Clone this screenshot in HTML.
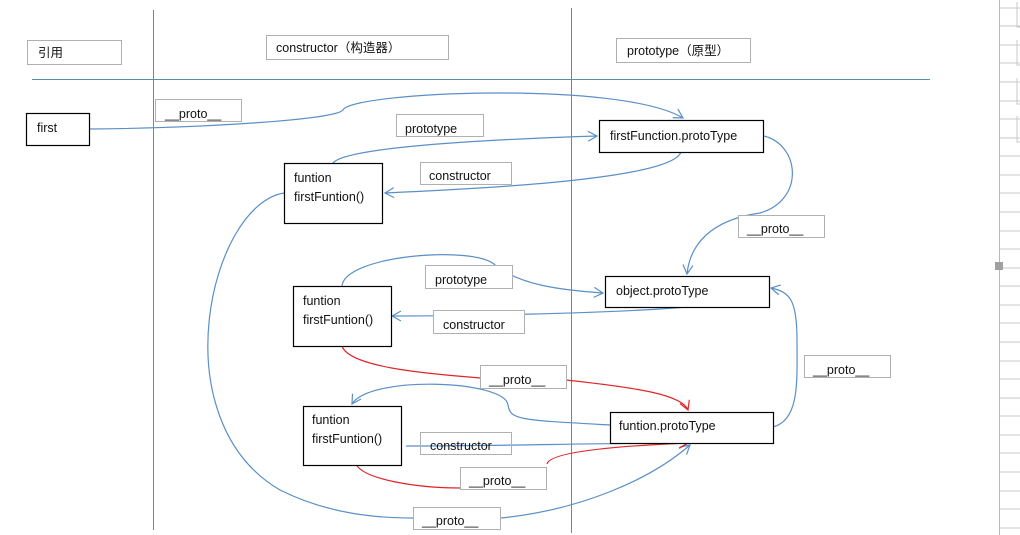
<!DOCTYPE html>
<html><head><meta charset="utf-8"><style>
html,body{margin:0;padding:0;background:#fff;width:1020px;height:535px;overflow:hidden}
svg{display:block}
text{font-family:"Liberation Sans","Noto Sans CJK SC",sans-serif;font-size:12.5px;fill:#111}
</style></head><body>
<svg width="1020" height="535" viewBox="0 0 1020 535">
<defs>
<marker id="ab" markerWidth="12" markerHeight="12" refX="10" refY="6" orient="auto" markerUnits="userSpaceOnUse"><path d="M1,1 L10,6 L1,11" fill="none" stroke="#5b8fc7" stroke-width="1.2"/></marker>
<marker id="ar" markerWidth="12" markerHeight="12" refX="10" refY="6" orient="auto" markerUnits="userSpaceOnUse"><path d="M1,1 L10,6 L1,11" fill="none" stroke="#e0262a" stroke-width="1.2"/></marker>
</defs>
<!-- right edge grid -->
<line x1="999.5" y1="0" x2="999.5" y2="535" stroke="#b8b8b8"/>
<g stroke="#c8c8c8">
<line x1="1000" y1="8" x2="1020" y2="8"/><line x1="1000" y1="26" x2="1020" y2="26"/><line x1="1000" y1="45" x2="1020" y2="45"/><line x1="1000" y1="63" x2="1020" y2="63"/><line x1="1000" y1="82" x2="1020" y2="82"/><line x1="1000" y1="101" x2="1020" y2="101"/><line x1="1000" y1="119" x2="1020" y2="119"/><line x1="1000" y1="138" x2="1020" y2="138"/><line x1="1000" y1="156" x2="1020" y2="156"/><line x1="1000" y1="175" x2="1020" y2="175"/><line x1="1000" y1="193" x2="1020" y2="193"/><line x1="1000" y1="212" x2="1020" y2="212"/><line x1="1000" y1="231" x2="1020" y2="231"/><line x1="1000" y1="249" x2="1020" y2="249"/><line x1="1000" y1="268" x2="1020" y2="268"/><line x1="1000" y1="286" x2="1020" y2="286"/><line x1="1000" y1="305" x2="1020" y2="305"/><line x1="1000" y1="323" x2="1020" y2="323"/><line x1="1000" y1="342" x2="1020" y2="342"/><line x1="1000" y1="361" x2="1020" y2="361"/><line x1="1000" y1="379" x2="1020" y2="379"/><line x1="1000" y1="398" x2="1020" y2="398"/><line x1="1000" y1="416" x2="1020" y2="416"/><line x1="1000" y1="435" x2="1020" y2="435"/><line x1="1000" y1="453" x2="1020" y2="453"/><line x1="1000" y1="472" x2="1020" y2="472"/><line x1="1000" y1="491" x2="1020" y2="491"/><line x1="1000" y1="509" x2="1020" y2="509"/><line x1="1000" y1="528" x2="1020" y2="528"/>
<path d="M1017,2 V27 H1020 M1017,40 V65 H1020 M1017,78 V104 H1020 M1017,116 V142 H1020" fill="none"/>
</g>
<rect x="995" y="262" width="8" height="8" fill="#a0a0a0"/>

<!-- grid lines -->
<g stroke="#5b8fa8" stroke-width="1">
<line x1="32" y1="79.5" x2="930" y2="79.5"/>
<line x1="153.5" y1="10" x2="153.5" y2="530"/>
<line x1="571.5" y1="8" x2="571.5" y2="533"/>
</g>

<!-- connectors -->
<g fill="none" stroke="#5b8fc7" stroke-width="1.2">
<path d="M89,129 C200,128 335,120 343,110 C350,92 620,80 683,118" marker-end="url(#ab)"/>
<path d="M333,163 C345,148 470,140 597,136" marker-end="url(#ab)"/>
<path d="M681,152 C672,178 500,188 385,193" marker-end="url(#ab)"/>
<path d="M764,136 C800,145 805,200 760,213 C710,220 690,245 687,274" marker-end="url(#ab)"/>
<path d="M284,193 C210,205 160,420 280,490 C330,515 380,518 413,518"/>
<path d="M501,518 C580,510 650,480 690,445" marker-end="url(#ab)"/>
<path d="M342,286 C345,255 475,245 495,265 C520,285 560,290 603,293" marker-end="url(#ab)"/>
<path d="M688,307 C600,314 450,316 392,316" marker-end="url(#ab)"/>
<path d="M610,425 C520,420 510,420 508,405 C505,380 370,375 352,404" marker-end="url(#ab)"/>
<path d="M406,446 C500,446 600,443 688,443" marker-end="url(#ab)"/>
<path d="M773,427 C800,420 797,380 797,340 C797,300 790,292 771,288" marker-end="url(#ab)"/>
</g>
<g fill="none" stroke="#e0262a" stroke-width="1.2">
<path d="M342,346 C350,370 450,375 480,378"/>
<path d="M566,380 C640,388 682,395 688,410" marker-end="url(#ar)"/>
<path d="M355,462 C360,480 420,488 460,488"/>
<path d="M547,464 C550,450 640,445 688,443" marker-end="url(#ar)"/>
</g>

<!-- gray label boxes -->
<g fill="#fff" stroke="#b0b0b0" stroke-width="1">
<rect x="27.5" y="40.5" width="94" height="24"/>
<rect x="266.5" y="35.5" width="182" height="24"/>
<rect x="616.5" y="38.5" width="134" height="24"/>
<rect x="155.5" y="99.5" width="86" height="22"/>
<rect x="396.5" y="114.5" width="87" height="22"/>
<rect x="420.5" y="162.5" width="91" height="22"/>
<rect x="738.5" y="215.5" width="86" height="22"/>
<rect x="425.5" y="265.5" width="87" height="23"/>
<rect x="433.5" y="310.5" width="91" height="23"/>
<rect x="480.5" y="365.5" width="86" height="23"/>
<rect x="804.5" y="355.5" width="86" height="22"/>
<rect x="460.5" y="467.5" width="86" height="22"/>
<rect x="413.5" y="507.5" width="87" height="22"/>
</g>
<rect x="420.5" y="432.5" width="91" height="22" fill="none" stroke="#b0b0b0"/>

<!-- black boxes -->
<g fill="#fff" stroke="#000" stroke-width="1.2">
<rect x="26.5" y="113.5" width="63" height="32"/>
<rect x="284.5" y="163.5" width="98" height="60"/>
<rect x="599.5" y="120.5" width="164" height="32"/>
<rect x="293.5" y="286.5" width="98" height="60"/>
<rect x="605.5" y="276.5" width="164" height="31"/>
<rect x="303.5" y="406.5" width="98" height="59"/>
<rect x="610.5" y="412.5" width="163" height="31"/>
</g>

<!-- texts -->
<text x="38" y="57">引用</text>
<text x="276" y="52">constructor（构造器）</text>
<text x="627" y="55">prototype（原型）</text>
<text x="37" y="132">first</text>
<text x="165" y="118">__proto__</text>
<text x="405" y="133">prototype</text>
<text x="429" y="180">constructor</text>
<text x="294" y="182">funtion</text>
<text x="294" y="201">firstFuntion()</text>
<text x="610" y="140">firstFunction.protoType</text>
<text x="747" y="233">__proto__</text>
<text x="435" y="284">prototype</text>
<text x="443" y="329">constructor</text>
<text x="303" y="305">funtion</text>
<text x="303" y="324">firstFuntion()</text>
<text x="616" y="295">object.protoType</text>
<text x="489" y="384">__proto__</text>
<text x="813" y="374">__proto__</text>
<text x="312" y="424">funtion</text>
<text x="312" y="443">firstFuntion()</text>
<text x="430" y="450">constructor</text>
<text x="619" y="430">funtion.protoType</text>
<text x="469" y="485">__proto__</text>
<text x="422" y="525">__proto__</text>
</svg>
</body></html>
